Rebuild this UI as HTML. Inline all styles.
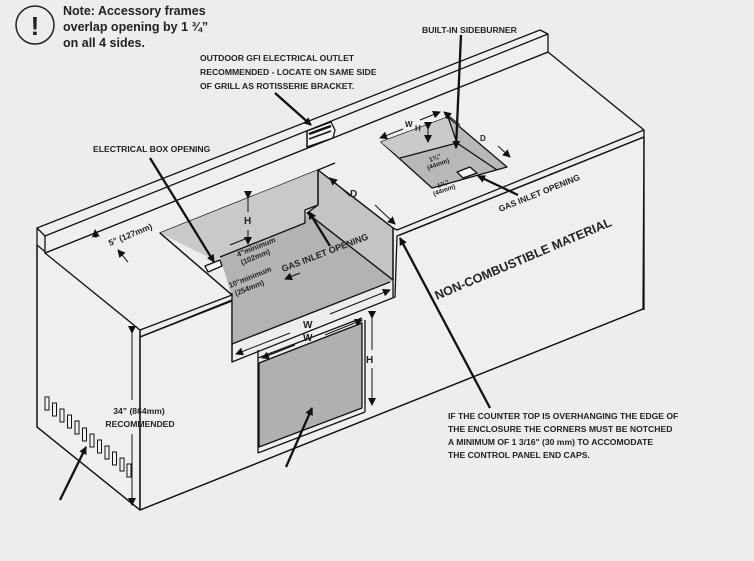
<!DOCTYPE html>
<html><head><meta charset="utf-8"><style>
html,body{margin:0;padding:0;background:#ededed;}
svg{display:block;}
text{font-family:"Liberation Sans",sans-serif;font-weight:bold;fill:#222;}
</style></head><body>
<svg width="754" height="561" viewBox="0 0 754 561" xmlns="http://www.w3.org/2000/svg">
<defs>
<marker id="a" markerWidth="8" markerHeight="8" refX="7" refY="4" orient="auto" markerUnits="userSpaceOnUse"><path d="M0,0 L8,4 L0,8 z" fill="#111"/></marker>
</defs>
<rect width="754" height="561" fill="#ededed"/>
<g stroke="#111" stroke-width="1.3" fill="none" stroke-linejoin="round">
<polygon points="37,245 140,330 140,510 37,427" fill="#efefef"/>
<polygon points="140,337 232,300 232,362 395,297 397,236 644,137 643,309 140,510" fill="#efefef"/>
<polygon points="45,253 548,52 644,130 397,230 393,228 318,170 160,233 232,295 140,330" fill="#efefef"/>
<polygon points="37,228 540,30 548,34 548,52 45,253 45,236" fill="#efefef"/>
<line x1="45" y1="236" x2="548" y2="34"/>
<line x1="37" y1="228" x2="37" y2="427"/>
<line x1="37" y1="427" x2="140" y2="510"/>
<line x1="140" y1="330" x2="140" y2="510"/>
<line x1="140" y1="510" x2="643" y2="309"/>
<line x1="644" y1="130" x2="644" y2="310"/>
<line x1="140" y1="337" x2="232" y2="301"/>
<line x1="644" y1="137" x2="400" y2="235"/>
<polygon points="160,233 318,170 318,205 305,210 305,223 220,257 218,262" fill="#c9c9c9" stroke="none"/>
<polygon points="318,170 393,228 393,280 307,213 318,205" fill="#c4c4c4"/>
<polygon points="220,257 305,223 307,213 393,280 390,282 232,344 232,297" fill="#b3b3b3" stroke="none"/>
<polyline points="318,170 318,205 305,210 305,223 220,257"/>
<line x1="307" y1="213" x2="393" y2="280"/>
<line x1="160" y1="233" x2="232" y2="295"/>
<line x1="232" y1="293" x2="232" y2="362"/>
<line x1="393" y1="228" x2="393" y2="297"/>
<line x1="232" y1="344" x2="390" y2="282"/>
<polygon points="205,266 220,260 222,266 208,272" fill="#f4f4f4"/>
<line x1="318" y1="170" x2="335" y2="163"/>
<polygon points="259,363 362,323 362,408 259,447" fill="#b0b0b0"/>
<line x1="258" y1="350" x2="258" y2="453"/>
<line x1="258" y1="453" x2="365" y2="412"/>
<line x1="365" y1="320" x2="365" y2="412"/>
<line x1="258" y1="358" x2="362" y2="318"/>
<polygon points="381,142 448,117 507,167 432,188" fill="#b8b8b8"/>
<polygon points="381,142 448,117 457,143 400,158" fill="#cacaca" stroke="none"/>
<line x1="400" y1="158" x2="457" y2="143"/>
<line x1="448" y1="117" x2="457" y2="143"/>
<line x1="457" y1="143" x2="497" y2="170"/>
<polygon points="457,172 470,167 477,173 463,178" fill="#f4f4f4"/>
<polygon points="307,131 331,122 335,130 333,138 307,147" fill="#f4f4f4"/>
<line x1="309" y1="134" x2="331" y2="126" stroke-width="2.5"/>
<line x1="309" y1="139" x2="331" y2="131" stroke-width="1.5"/>
<line x1="307" y1="131" x2="307" y2="147"/>
</g>
<g fill="#f2f2f2" stroke="#111" stroke-width="1">
<rect x="45" y="397" width="4" height="13"/><rect x="52.5" y="403" width="4" height="13"/><rect x="60" y="409" width="4" height="13"/><rect x="67.5" y="415" width="4" height="13"/><rect x="75" y="421" width="4" height="13"/><rect x="82.5" y="428" width="4" height="13"/><rect x="90" y="434" width="4" height="13"/><rect x="97.5" y="440" width="4" height="13"/><rect x="105" y="446" width="4" height="13"/><rect x="112.5" y="452" width="4" height="13"/><rect x="120" y="458" width="4" height="13"/><rect x="127" y="464" width="4" height="13"/>
</g>
<g stroke="#111" stroke-width="2.3" fill="none">
<line x1="60" y1="500" x2="86" y2="447" marker-end="url(#a)"/>
<line x1="286" y1="467" x2="312" y2="408" marker-end="url(#a)"/>
<line x1="490" y1="408" x2="400" y2="238" marker-end="url(#a)"/>
<line x1="150" y1="158" x2="214" y2="262" marker-end="url(#a)"/>
<line x1="330" y1="246" x2="309" y2="212" marker-end="url(#a)"/>
<line x1="461" y1="35" x2="456" y2="148" marker-end="url(#a)"/>
<line x1="518" y1="195" x2="478" y2="176" marker-end="url(#a)"/>
<line x1="275" y1="93" x2="311" y2="125" marker-end="url(#a)"/>
</g>
<g stroke="#111" stroke-width="1" fill="none">
<line x1="132" y1="333" x2="132" y2="400" marker-start="url(#a)"/>
<line x1="132" y1="434" x2="132" y2="505" marker-end="url(#a)"/>
<line x1="248" y1="198" x2="248" y2="212" marker-start="url(#a)"/>
<line x1="248" y1="230" x2="248" y2="244" marker-end="url(#a)"/>
<line x1="372" y1="318" x2="372" y2="350" marker-start="url(#a)"/>
<line x1="372" y1="368" x2="372" y2="405" marker-end="url(#a)"/>
<line x1="330" y1="314" x2="390" y2="290" marker-end="url(#a)"/>
<line x1="290" y1="333" x2="236" y2="354" marker-end="url(#a)"/>
<line x1="325" y1="335" x2="362" y2="320" marker-end="url(#a)"/>
<line x1="295" y1="345" x2="262" y2="358" marker-end="url(#a)"/>
<line x1="350" y1="196" x2="330" y2="178" marker-end="url(#a)"/>
<line x1="375" y1="205" x2="395" y2="224" marker-end="url(#a)"/>
<line x1="96" y1="238" x2="95" y2="230" marker-end="url(#a)"/>
<line x1="128" y1="262" x2="118" y2="250" marker-end="url(#a)"/>
<line x1="403" y1="129" x2="380" y2="138" marker-end="url(#a)"/>
<line x1="420" y1="120" x2="440" y2="112" marker-end="url(#a)"/>
<line x1="460" y1="125" x2="444" y2="112" marker-end="url(#a)"/>
<line x1="498" y1="146" x2="510" y2="157" marker-end="url(#a)"/>
<line x1="428" y1="129" x2="428" y2="142" marker-start="url(#a)" marker-end="url(#a)"/>
<line x1="300" y1="273" x2="285" y2="279" marker-end="url(#a)"/>
<line x1="230" y1="245" x2="245" y2="239"/>
</g>
<circle cx="35" cy="25" r="19" fill="none" stroke="#222" stroke-width="1.5"/>
<text x="35" y="35" font-size="26" text-anchor="middle">!</text>
<text x="63" y="15" font-size="12.5">Note: Accessory frames</text>
<text x="63" y="31" font-size="12.5">overlap opening by 1 ¾”</text>
<text x="63" y="47" font-size="12.5">on all 4 sides.</text>
<g font-size="8.6">
<text x="200" y="61">OUTDOOR GFI ELECTRICAL OUTLET</text>
<text x="200" y="75">RECOMMENDED - LOCATE ON SAME SIDE</text>
<text x="200" y="89">OF GRILL AS ROTISSERIE BRACKET.</text>
<text x="422" y="33">BUILT-IN SIDEBURNER</text>
<text x="93" y="152">ELECTRICAL BOX OPENING</text>
<text x="448" y="419">IF THE COUNTER TOP IS OVERHANGING THE EDGE OF</text>
<text x="448" y="432">THE ENCLOSURE THE CORNERS MUST BE NOTCHED</text>
<text x="448" y="445">A MINIMUM OF 1 3/16" (30 mm) TO ACCOMODATE</text>
<text x="448" y="458">THE CONTROL PANEL END CAPS.</text>
<text x="139" y="414" text-anchor="middle">34” (864mm)</text>
<text x="140" y="427" text-anchor="middle">RECOMMENDED</text>
<text x="244" y="224" font-size="10">H</text>
<text x="366" y="363" font-size="10">H</text>
<text x="303" y="328" font-size="10">W</text>
<text x="303" y="341" font-size="10">W</text>
<text x="350" y="197" font-size="10">D</text>
<text x="415" y="131" font-size="8">H</text>
<text x="405" y="127" font-size="8">W</text>
<text x="480" y="141" font-size="8">D</text>
</g>
<text transform="translate(110,246) rotate(-22)" font-size="8.5">5” (127mm)</text>
<text transform="translate(238,257) rotate(-22)" font-size="7.5" font-weight="normal">4"minimum</text>
<text transform="translate(242,265) rotate(-22)" font-size="7.5" font-weight="normal">(102mm)</text>
<text transform="translate(230,288) rotate(-22)" font-size="7.5" font-weight="normal">10"minimum</text>
<text transform="translate(236,296) rotate(-22)" font-size="7.5" font-weight="normal">(254mm)</text>
<text transform="translate(283,272) rotate(-21)" font-size="9">GAS INLET OPENING</text>
<text transform="translate(500,212) rotate(-22)" font-size="8.5">GAS INLET OPENING</text>
<text transform="translate(437,300) rotate(-23)" font-size="12.5">NON-COMBUSTIBLE MATERIAL</text>
<text transform="translate(430,162) rotate(-20)" font-size="6.5" font-weight="normal">1¾"</text>
<text transform="translate(428,170) rotate(-20)" font-size="6.5" font-weight="normal">(44mm)</text>
<text transform="translate(438,188) rotate(-20)" font-size="6.5" font-weight="normal">1¾"</text>
<text transform="translate(434,196) rotate(-20)" font-size="6.5" font-weight="normal">(44mm)</text>
</svg>
</body></html>
